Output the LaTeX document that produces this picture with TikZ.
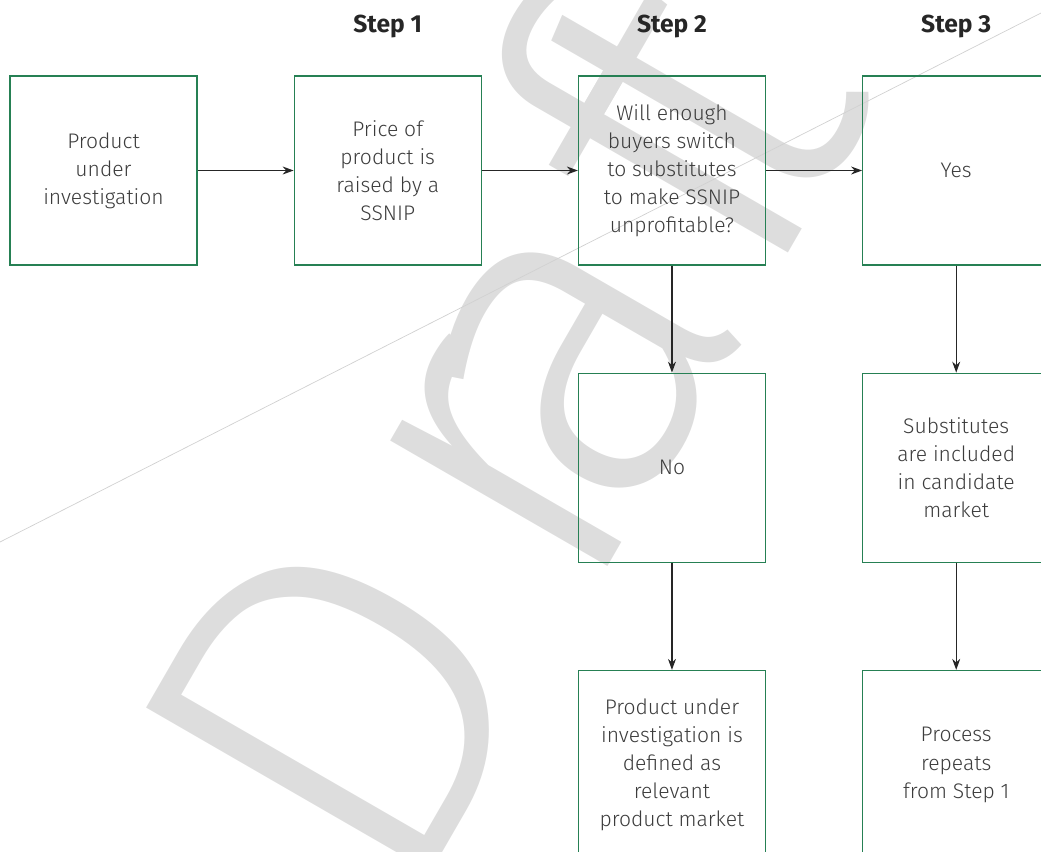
\documentclass[tikz,border=0pt]{standalone}
\usepackage{fontspec}
\IfFontExistsTF{Fira Sans Light}{\setmainfont{Fira Sans Light}}{%
    \IfFontExistsTF{Lato Light}{\setmainfont{Lato Light}}{\setmainfont{Fira Sans}}}
\newfontfamily\stepfont{Fira Sans}
\usetikzlibrary{positioning,arrows.meta}
\definecolor{boxgreen}{RGB}{38,128,84}
\definecolor{txtgray}{RGB}{60,60,60}
\definecolor{wmgray}{RGB}{221,221,221}

\begin{document}
\begin{tikzpicture}[
        box/.style={draw=boxgreen, line width=0.7pt, minimum width=3.74cm, minimum height=3.78cm,
            inner sep=0pt, align=center, text=txtgray, font=\fontsize{12}{16}\selectfont},
        steplabel/.style={font=\stepfont\bfseries\fontsize{14}{16}\selectfont, text=black!85},
        arr/.style={-{Stealth[length=2.2mm,width=1.6mm]}, line width=0.6pt, black!85},
        node distance=1.92cm]
        \useasboundingbox (0,0) rectangle (20.82,-17.02);
        \clip (0,0) rectangle (20.82,-17.02);
        % watermark
        \node[rotate=60, anchor=base west, inner sep=0pt, text=wmgray,
            font=\fontsize{273}{273}\selectfont] (draft) at (8.08,-18.38)
            {D\kern0.11em r\kern-0.19em a\kern0.03em f\kern-0.18em t};
        \draw[black!18, line width=0.4pt] (0,-10.84) -- (20.82,-0.26);
        % first row
        \node[box] (prod) at (2.07,-3.41) {Product\\under\\investigation};
        \node[box, right=of prod] (price) {Price of\\product is\\raised by a\\SSNIP};
        \node[box, right=of price] (switch) {Will enough\\buyers switch\\to substitutes\\to make SSNIP\\unprofitable?};
        \node[box, right=of switch] (yes) {Yes};
        % second and third rows
        \node[box, below=2.14cm of switch] (no) {No};
        \node[box, below=2.14cm of yes] (subst) {Substitutes\\are included\\in candidate\\market};
        \node[box, below=2.14cm of no] (relevant) {Product under\\investigation is\\defined as\\relevant\\product market};
        \node[box, below=2.14cm of subst] (repeat) {Process\\repeats\\from Step 1};
        % steps
        \node[steplabel, above=0.86cm of price.north, anchor=base] (step1) {Step 1};
        \node[steplabel, above=0.86cm of switch.north, anchor=base] (step2) {Step 2};
        \node[steplabel, above=0.86cm of yes.north, anchor=base] (step3) {Step 3};
        % arrows
        \draw[arr] (prod) -- (price);
        \draw[arr] (price) -- (switch);
        \draw[arr] (switch) -- (yes);
        \draw[arr] (switch) -- (no);
        \draw[arr] (no) -- (relevant);
        \draw[arr] (yes) -- (subst);
        \draw[arr] (subst) -- (repeat);
    \end{tikzpicture}
\end{document}
